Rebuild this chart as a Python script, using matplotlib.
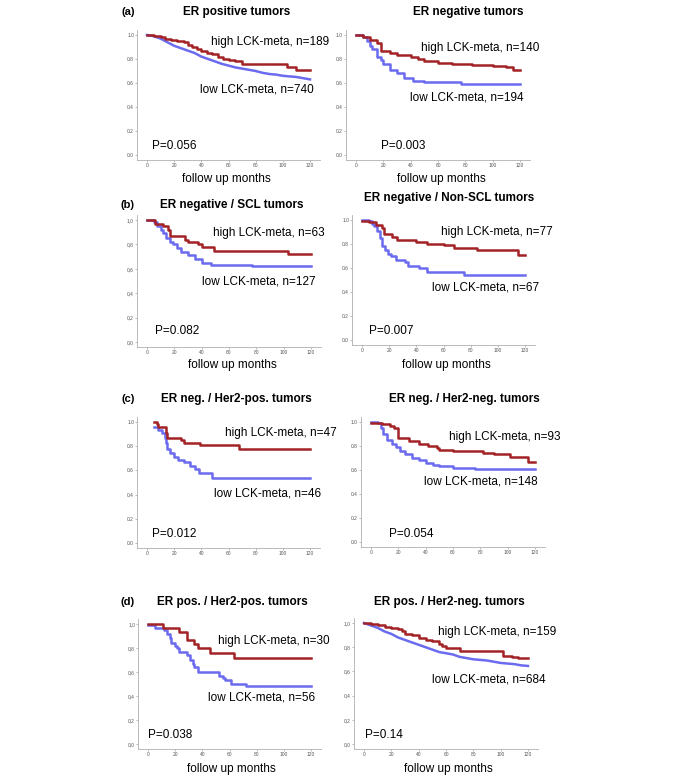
import matplotlib
matplotlib.use("Agg")
import matplotlib.pyplot as plt

plt.rcParams['font.family'] = ['Liberation Sans', 'DejaVu Sans']

RED = '#a32226'
BLUE = '#6b6bef'

# survival curves: (months, fraction surviving)
a1_high_t = [0, 5, 10, 13, 18, 22, 27, 30, 33, 37, 40, 44, 48, 52, 56, 60, 65, 70, 103, 110, 120]
a1_high_s = [1.0, 0.99, 0.98, 0.97, 0.96, 0.95, 0.94, 0.92, 0.90, 0.88, 0.87, 0.85, 0.84, 0.82, 0.80, 0.79, 0.78, 0.76, 0.73, 0.71, 0.71]
a1_low_t = [0, 5, 10, 15, 20, 25, 30, 35, 40, 45, 50, 55, 60, 65, 70, 75, 80, 85, 90, 95, 100, 105, 110, 115, 120]
a1_low_s = [1.0, 0.99, 0.97, 0.94, 0.91, 0.89, 0.87, 0.85, 0.82, 0.80, 0.78, 0.76, 0.745, 0.73, 0.72, 0.71, 0.70,
            0.685, 0.675, 0.67, 0.66, 0.655, 0.65, 0.64, 0.63]

a2_high_t = [0, 5, 10, 15, 18, 25, 30, 40, 45, 50, 60, 70, 85, 100, 110, 115, 120]
a2_high_s = [1.0, 0.98, 0.96, 0.93, 0.87, 0.85, 0.83, 0.82, 0.80, 0.78, 0.77, 0.76, 0.75, 0.74, 0.73, 0.71, 0.71]
a2_low_t = [0, 5, 8, 10, 12, 15, 18, 20, 25, 30, 35, 42, 50, 77, 120]
a2_low_s = [1.0, 0.98, 0.95, 0.91, 0.88, 0.82, 0.79, 0.76, 0.71, 0.68, 0.64, 0.62, 0.605, 0.59, 0.59]

b1_high_t = [0, 6, 12, 15, 17, 28, 30, 37, 40, 49, 103, 120]
b1_high_s = [1.0, 0.97, 0.95, 0.92, 0.87, 0.84, 0.82, 0.80, 0.78, 0.75, 0.72, 0.72]
b1_low_t = [0, 5, 7, 10, 12, 14, 17, 19, 22, 25, 30, 35, 40, 47, 77, 120]
b1_low_s = [1.0, 0.98, 0.95, 0.92, 0.89, 0.85, 0.82, 0.80, 0.77, 0.74, 0.71, 0.68, 0.65, 0.63, 0.62, 0.62]

b2_high_t = [0, 5, 10, 15, 16, 22, 26, 40, 48, 60, 68, 85, 115, 120]
b2_high_s = [0.99, 0.98, 0.96, 0.93, 0.88, 0.86, 0.83, 0.82, 0.80, 0.79, 0.77, 0.75, 0.71, 0.71]
b2_low_t = [0, 5, 7, 9, 11, 13, 15, 17, 19, 21, 25, 32, 34, 42, 48, 75, 120]
b2_low_s = [1.0, 0.99, 0.97, 0.95, 0.91, 0.85, 0.78, 0.75, 0.72, 0.70, 0.67, 0.65, 0.62, 0.60, 0.57, 0.545, 0.545]

c1_high_t = [5, 7, 8, 14, 15, 25, 27, 39, 68, 120]
c1_high_s = [1.0, 0.98, 0.96, 0.91, 0.87, 0.85, 0.83, 0.81, 0.78, 0.78]
c1_low_t = [5, 8, 11, 13, 14, 15, 17, 20, 23, 27, 32, 35, 38, 48, 120]
c1_low_s = [0.96, 0.93, 0.91, 0.87, 0.83, 0.78, 0.74, 0.71, 0.69, 0.67, 0.64, 0.61, 0.58, 0.535, 0.535]

c2_high_t = [0, 8, 14, 17, 20, 28, 35, 42, 48, 50, 60, 82, 90, 102, 115, 120]
c2_high_s = [0.99, 0.98, 0.97, 0.95, 0.87, 0.845, 0.82, 0.80, 0.78, 0.765, 0.755, 0.74, 0.73, 0.71, 0.67, 0.67]
c2_low_t = [0, 5, 7, 9, 12, 15, 18, 21, 25, 30, 35, 40, 45, 50, 60, 76, 120]
c2_low_s = [1.0, 0.99, 0.95, 0.90, 0.85, 0.82, 0.79, 0.76, 0.73, 0.70, 0.68, 0.66, 0.64, 0.63, 0.62, 0.605, 0.605]

d1_high_t = [0, 11, 23, 29, 34, 37, 46, 63, 120]
d1_high_s = [1.0, 0.97, 0.93, 0.87, 0.83, 0.80, 0.76, 0.715, 0.715]
d1_low_t = [0, 5, 12, 14, 16, 17, 20, 21, 23, 29, 31, 33, 34, 37, 52, 55, 57, 61, 72, 120]
d1_low_s = [0.99, 0.97, 0.95, 0.92, 0.88, 0.84, 0.82, 0.80, 0.77, 0.74, 0.70, 0.67, 0.64, 0.60, 0.57, 0.55, 0.53, 0.50, 0.48, 0.48]

d2_high_t = [0, 5, 10, 15, 20, 25, 28, 30, 35, 40, 45, 50, 55, 57, 60, 70, 102, 108, 113, 120]
d2_high_s = [1.0, 0.99, 0.98, 0.97, 0.96, 0.95, 0.93, 0.91, 0.90, 0.88, 0.86, 0.85, 0.83, 0.81, 0.79, 0.77, 0.73, 0.72, 0.71, 0.71]
d2_low_t = [0, 5, 10, 15, 20, 25, 30, 35, 40, 45, 50, 55, 60, 65, 70, 75, 80, 90, 95, 100, 105, 110, 115, 120]
d2_low_s = [1.0, 0.98, 0.96, 0.93, 0.91, 0.88, 0.86, 0.84, 0.82, 0.80, 0.78, 0.76, 0.75, 0.74, 0.72, 0.71, 0.70,
            0.69, 0.68, 0.67, 0.665, 0.66, 0.65, 0.645]

titles = ['ER positive tumors', 'ER negative tumors',
          'ER negative / SCL tumors', 'ER negative / Non-SCL tumors',
          'ER neg. / Her2-pos. tumors', 'ER neg. / Her2-neg. tumors',
          'ER pos. / Her2-pos. tumors', 'ER pos. / Her2-neg. tumors']
n_high = [189, 140, 63, 77, 47, 93, 30, 159]
n_low = [740, 194, 127, 67, 46, 148, 56, 684]
p_values = ['0.056', '0.003', '0.082', '0.007', '0.012', '0.054', '0.038', '0.14']
letters = ['(a)', None, '(b)', None, '(c)', None, '(d)', None]
comma_ticks = [False, False, True, False, False, False, True, True]
show_xlabel = [True, True, True, True, False, False, True, True]
smooth_low = [True, False, False, False, False, False, False, True]

curves = [(a1_high_t, a1_high_s, a1_low_t, a1_low_s), (a2_high_t, a2_high_s, a2_low_t, a2_low_s),
          (b1_high_t, b1_high_s, b1_low_t, b1_low_s), (b2_high_t, b2_high_s, b2_low_t, b2_low_s),
          (c1_high_t, c1_high_s, c1_low_t, c1_low_s), (c2_high_t, c2_high_s, c2_low_t, c2_low_s),
          (d1_high_t, d1_high_s, d1_low_t, d1_low_s), (d2_high_t, d2_high_s, d2_low_t, d2_low_s)]

# layout in pixels: x of month 0, x of month 120, y of 1.0, y of 0.0
frames = [(147, 310, 35, 155), (356, 520, 35, 155),
          (147, 311, 220, 342), (362, 525, 220, 340),
          (147, 310, 422, 543), (371, 535, 422, 542),
          (148, 311, 624, 744), (364, 528, 623, 744)]
title_pos = [(237, 12), (468, 12), (232, 205), (449, 198),
             (236, 399), (464, 399), (232, 602), (449, 602)]
high_pos = [(270, 42), (480, 48), (269, 233), (497, 232), (281, 433), (505, 437), (274, 641), (497, 632)]
low_pos = [(257, 90), (467, 97), (259, 282), (486, 287), (268, 493), (481, 481), (262, 697), (489, 679)]
p_pos = [(174, 146), (403, 146), (177, 331), (391, 331), (174, 534), (411, 534), (170, 735), (384, 735)]
xlabel_pos = [(226, 179), (441, 179), (232, 365), (446, 365), None, None, (231, 769), (448, 769)]

W, H = 685, 779
fig = plt.figure(figsize=(W / 100, H / 100), dpi=100)

XMIN, XMAX = -7, 127
YMIN, YMAX = -0.04, 1.04


def fx(px):
    return px / W


def fy(py):
    return 1 - py / H


for i in range(8):
    x0, x120, y1, y0 = frames[i]
    sx = (x120 - x0) / 120
    sy = (y0 - y1)
    left = x0 + XMIN * sx
    right = x0 + XMAX * sx
    top = y0 - YMAX * sy
    bottom = y0 - YMIN * sy
    ax = fig.add_axes([left / W, 1 - bottom / H, (right - left) / W, (bottom - top) / H])
    ax.set_xlim(XMIN, XMAX)
    ax.set_ylim(YMIN, YMAX)

    ht, hs, lt, ls = curves[i]
    if smooth_low[i]:
        ax.plot(lt, ls, color=BLUE, lw=1.8)
    else:
        ax.step(lt, ls, where='post', color=BLUE, lw=1.8)
    ax.step(ht, hs, where='post', color=RED, lw=1.8)

    for s in ['top', 'right']:
        ax.spines[s].set_visible(False)
    for s in ['left', 'bottom']:
        ax.spines[s].set_color('#b0b0b0')
        ax.spines[s].set_linewidth(0.6)
    ax.set_xticks([0, 20, 40, 60, 80, 100, 120])
    yt = [0.0, 0.2, 0.4, 0.6, 0.8, 1.0]
    ax.set_yticks(yt)
    if comma_ticks[i]:
        ax.set_yticklabels([f'{v:.1f}'.replace('.', ',') for v in yt])
    else:
        ax.set_yticklabels([f'{v:.1f}' for v in yt])
    ax.tick_params(labelsize=3.5, length=1.5, width=0.5, color='#a0a0a0', labelcolor='#555555', pad=1)

    fig.text(fx(title_pos[i][0]), fy(title_pos[i][1]), titles[i], ha='center', va='center',
             fontsize=8.5, fontweight='bold')
    if letters[i]:
        fig.text(fx(128), fy(title_pos[i][1]), letters[i], ha='center', va='center',
                 fontsize=8, fontweight='bold')
    fig.text(fx(high_pos[i][0]), fy(high_pos[i][1]), f'high LCK-meta, n={n_high[i]}',
             ha='center', va='center', fontsize=8.5)
    fig.text(fx(low_pos[i][0]), fy(low_pos[i][1]), f'low LCK-meta, n={n_low[i]}',
             ha='center', va='center', fontsize=8.5)
    fig.text(fx(p_pos[i][0]), fy(p_pos[i][1]), f'P={p_values[i]}', ha='center', va='center', fontsize=8.5)
    if show_xlabel[i]:
        fig.text(fx(xlabel_pos[i][0]), fy(xlabel_pos[i][1]), 'follow up months',
                 ha='center', va='center', fontsize=8.5)

fig.savefig('out.png', dpi=100)
